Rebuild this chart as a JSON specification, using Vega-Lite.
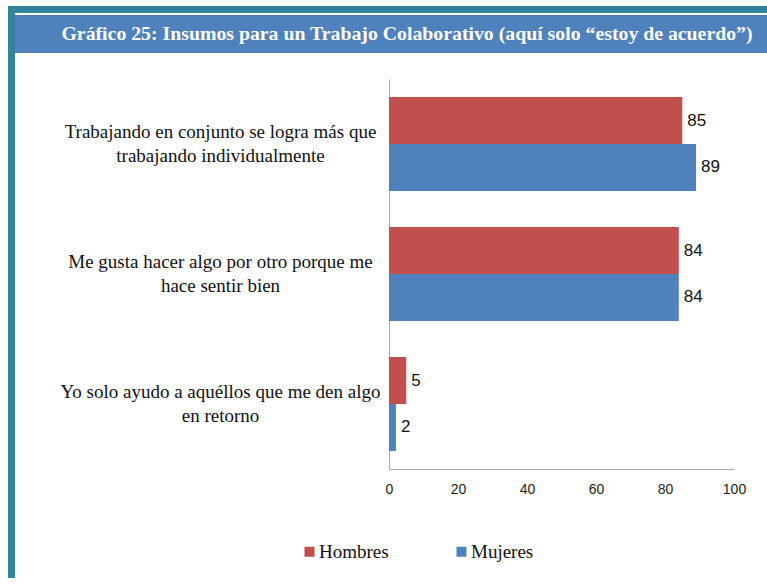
{
  "$schema": "https://vega.github.io/schema/vega-lite/v6.json",
  "background": "white",
  "padding": {"left": 8, "top": 3, "right": 0, "bottom": 0},
  "config": {"view": {"stroke": null}},
  "spacing": 0,
  "hconcat": [
    {
      "width": 7,
      "height": 572,
      "view": {"fill": "#31849B", "stroke": null},
      "data": {"values": [{"t": ""}]},
      "mark": {"type": "text"},
      "encoding": {"text": {"field": "t"}}
    },
    {
      "spacing": 26,
      "vconcat": [
        {
          "spacing": 0,
          "vconcat": [
            {
              "width": 752,
              "height": 7,
              "view": {"fill": "#31849B", "stroke": null},
              "data": {"values": [{"t": ""}]},
              "mark": {"type": "text"},
              "encoding": {"text": {"field": "t"}}
            },
            {
              "width": 752,
              "height": 38,
              "view": {"fill": "#4F81BD", "stroke": null},
              "data": {"values": [{"titulo": "Gráfico 25: Insumos para un Trabajo Colaborativo (aquí solo “estoy de acuerdo”)"}]},
              "mark": {"type": "text", "font": "Liberation Serif", "fontWeight": "bold", "fontSize": 19.8, "color": "white", "dx": 16},
              "encoding": {"text": {"field": "titulo"}}
            }
          ]
        },
        {
          "width": 752,
          "height": 390,
          "data": {
            "values": [
              {"item": "Trabajando en conjunto se logra más que\ntrabajando individualmente", "sexo": "Hombres", "valor": 85},
              {"item": "Trabajando en conjunto se logra más que\ntrabajando individualmente", "sexo": "Mujeres", "valor": 89},
              {"item": "Me gusta hacer algo por otro porque me\nhace sentir bien", "sexo": "Hombres", "valor": 84},
              {"item": "Me gusta hacer algo por otro porque me\nhace sentir bien", "sexo": "Mujeres", "valor": 84},
              {"item": "Yo solo ayudo a aquéllos que me den algo\nen retorno", "sexo": "Hombres", "valor": 5},
              {"item": "Yo solo ayudo a aquéllos que me den algo\nen retorno", "sexo": "Mujeres", "valor": 2}
            ]
          },
          "encoding": {
            "y": {
              "field": "item",
              "type": "nominal",
              "sort": null,
              "scale": {"paddingInner": 0.277, "paddingOuter": 0.1385},
              "axis": {
                "title": null,
                "offset": -374,
                "labelExpr": "split(datum.label, '\\n')",
                "labelAlign": "center",
                "labelBaseline": "middle",
                "labelPadding": 169,
                "labelOffset": -12,
                "labelFont": "Liberation Serif",
                "labelFontSize": 19,
                "labelColor": "#111111",
                "labelLineHeight": 24,
                "labelLimit": 500,
                "ticks": false,
                "domainColor": "#A6A6A6"
              }
            },
            "yOffset": {"field": "sexo", "sort": ["Hombres", "Mujeres"]},
            "x": {
              "field": "valor",
              "type": "quantitative",
              "scale": {"domain": [0, 100], "range": [374, 719]},
              "axis": {
                "values": [0, 20, 40, 60, 80, 100],
                "title": null,
                "ticks": false,
                "grid": false,
                "labelFlush": false,
                "labelFont": "Liberation Sans Narrow, Liberation Sans, sans-serif",
                "labelFontSize": 14,
                "labelColor": "#222222",
                "labelPadding": 13,
                "domainColor": "#A6A6A6"
              }
            }
          },
          "layer": [
            {
              "mark": {"type": "bar"},
              "encoding": {
                "color": {
                  "field": "sexo",
                  "type": "nominal",
                  "scale": {"domain": ["Hombres", "Mujeres"], "range": ["#C0504D", "#4F81BD"]},
                  "legend": {
                    "title": null,
                    "orient": "none",
                    "legendX": 292,
                    "legendY": 536,
                    "direction": "horizontal",
                    "columns": 2,
                    "symbolType": "square",
                    "symbolSize": 100,
                    "symbolStrokeWidth": 0,
                    "labelFont": "Liberation Serif",
                    "labelFontSize": 19,
                    "labelColor": "#111111",
                    "labelOffset": 0,
                    "columnPadding": 63
                  }
                }
              }
            },
            {
              "mark": {"type": "text", "align": "left", "baseline": "middle", "dx": 5, "font": "Liberation Sans", "fontSize": 17, "color": "#111111"},
              "encoding": {"text": {"field": "valor", "type": "quantitative"}}
            }
          ]
        }
      ]
    }
  ]
}
